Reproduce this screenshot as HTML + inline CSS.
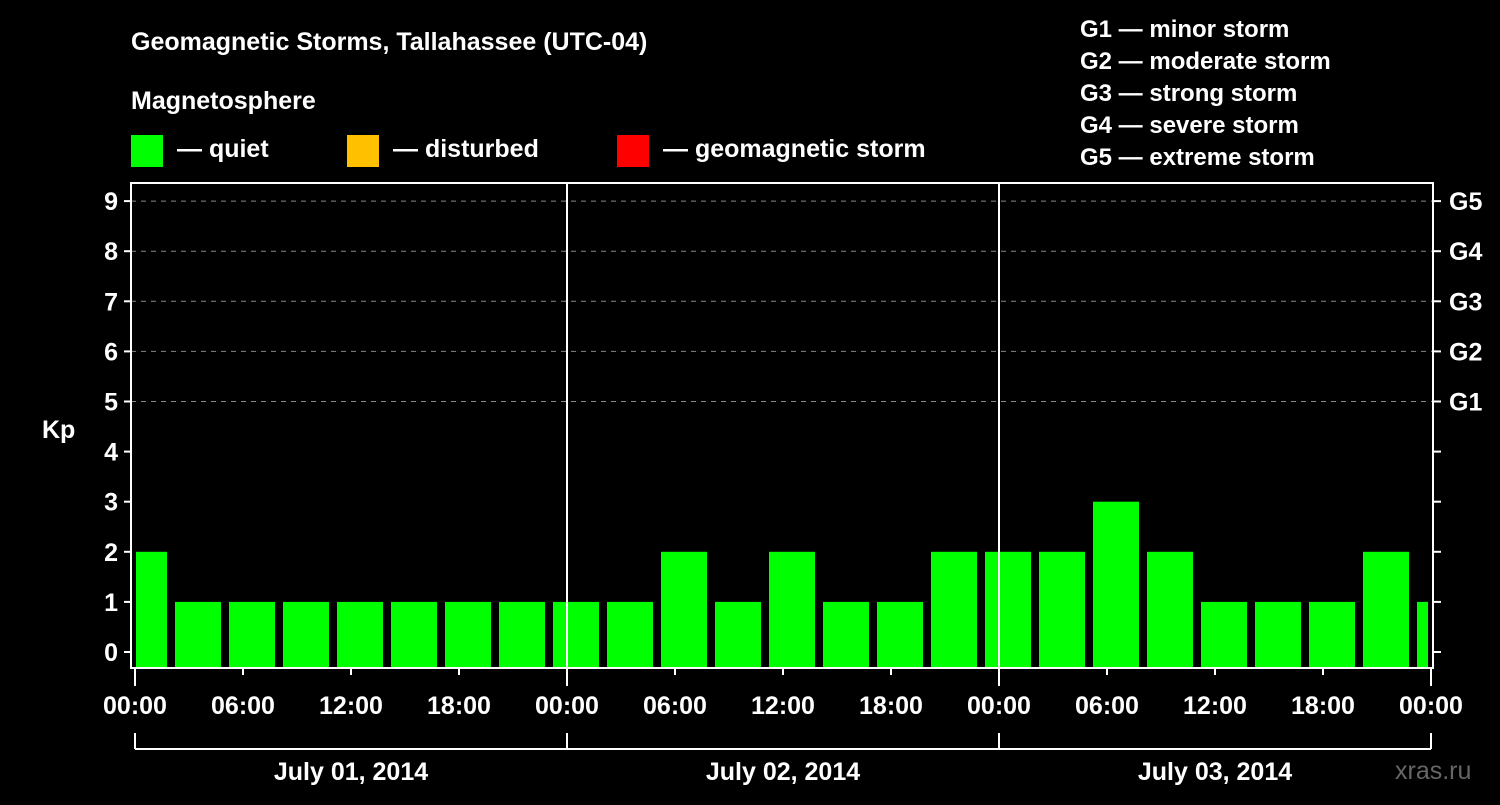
<!DOCTYPE html>
<html><head><meta charset="utf-8"><style>
body{margin:0;background:#000;width:1500px;height:800px;overflow:hidden}
svg text{font-family:"Liberation Sans",Arial,sans-serif;font-weight:bold;fill:#fff}
</style></head><body>
<svg id="chart" width="1500" height="800" xmlns="http://www.w3.org/2000/svg">
<text x="131" y="50" font-size="25">Geomagnetic Storms, Tallahassee (UTC-04)</text>
<text x="131" y="109" font-size="25">Magnetosphere</text>
<g>
<rect x="131" y="135" width="32" height="32" fill="#00ff00"/>
<text x="177" y="157" font-size="25">— quiet</text>
<rect x="347" y="135" width="32" height="32" fill="#ffc000"/>
<text x="393" y="157" font-size="25">— disturbed</text>
<rect x="617" y="135" width="32" height="32" fill="#ff0000"/>
<text x="663" y="157" font-size="25">— geomagnetic storm</text>
</g>
<g font-size="24">
<text x="1080" y="37">G1 — minor storm</text>
<text x="1080" y="69">G2 — moderate storm</text>
<text x="1080" y="101">G3 — strong storm</text>
<text x="1080" y="133">G4 — severe storm</text>
<text x="1080" y="165">G5 — extreme storm</text>
</g>
<text x="42" y="438" font-size="25">Kp</text>
<text x="1395" y="779" font-size="25" fill="#666" style="fill:#666;font-weight:normal">xras.ru</text>
<g id="grid"></g><g id="bars"></g><g id="axes"></g>
</svg>
<script>
const kpValues=[2,1,1,1,1,1,1,1,1,1,2,1,2,1,1,2,2,2,3,2,1,1,1,2,1];
const dayLabels=["July 01, 2014","July 02, 2014","July 03, 2014"];
const hourLabels=["00:00","06:00","12:00","18:00"];
const gLabels=["G1","G2","G3","G4","G5"];
const firstBinStartHour=-1; // local hour where first 3h bin starts
const NS="http://www.w3.org/2000/svg";
const X0=135,PXH=18,Y0=652,PXK=50.1,L=131,R=1433,T=183,B=668;
const xs=h=>X0+h*PXH, ys=k=>Y0-k*PXK;
function mk(t,a,p){const e=document.createElementNS(NS,t);for(const k in a)e.setAttribute(k,a[k]);p.appendChild(e);return e;}
const grid=document.getElementById('grid'),bars=document.getElementById('bars'),axes=document.getElementById('axes');
for(let k=5;k<=9;k++){const l=mk('line',{x1:L,x2:R,y1:ys(k),y2:ys(k),stroke:'#888','stroke-width':1,'stroke-dasharray':'5,5'},grid);

}
kpValues.forEach((v,i)=>{let s=xs(firstBinStartHour+3*i),e=xs(firstBinStartHour+3*i+3);
let x1=Math.max(s,X0)+4,x2=Math.min(e-4,R-5);if(s<X0)x1=X0+1;
const c=v>=5?'#ff0000':v>=4?'#ffc000':'#00ff00';
const r=mk('rect',{x:x1,y:ys(v),width:x2-x1,height:B-ys(v),fill:c},bars);

});
const fr=mk('rect',{x:L,y:T,width:R-L,height:B-T,fill:'none',stroke:'#fff','stroke-width':2},axes);


for(let d=1;d<dayLabels.length;d++){const l=mk('line',{x1:xs(24*d),x2:xs(24*d),y1:T,y2:B,stroke:'#fff','stroke-width':2},axes);

}
for(let k=0;k<=9;k++){const t=mk('line',{x1:L-7,x2:L,y1:ys(k),y2:ys(k),stroke:'#fff','stroke-width':2},axes);


const t2=mk('line',{x1:R,x2:R+8,y1:ys(k),y2:ys(k),stroke:'#fff','stroke-width':2},axes);


const tx=mk('text',{x:L-13,y:ys(k)+9,'text-anchor':'end','font-size':25},axes);tx.textContent=k;

}
gLabels.forEach((g,i)=>{const tx=mk('text',{x:R+16,y:ys(5+i)+9,'font-size':25},axes);tx.textContent=g;

});
for(let d=0;d<=dayLabels.length;d++){for(let h=0;h<4;h++){if(d==dayLabels.length&&h>0)break;
const x=xs(24*d+6*h);
const t=mk('line',{x1:x,x2:x,y1:B,y2:B+(h==0?18:7),stroke:'#fff','stroke-width':2},axes);


const tx=mk('text',{x:x,y:714,'text-anchor':'middle','font-size':25},axes);tx.textContent=hourLabels[h];

}}
const br=mk('path',{d:'',fill:'none',stroke:'#fff','stroke-width':2},axes);
let d='';for(let i=0;i<=dayLabels.length;i++){d+=`M${xs(24*i)},733 L${xs(24*i)},749 `;}
d+=`M${xs(0)},749 L${xs(24*dayLabels.length)},749`;br.setAttribute('d',d);


dayLabels.forEach((lab,i)=>{const tx=mk('text',{x:xs(24*i+12),y:780,'text-anchor':'middle','font-size':25},axes);tx.textContent=lab;

});
</script>
</body></html>
